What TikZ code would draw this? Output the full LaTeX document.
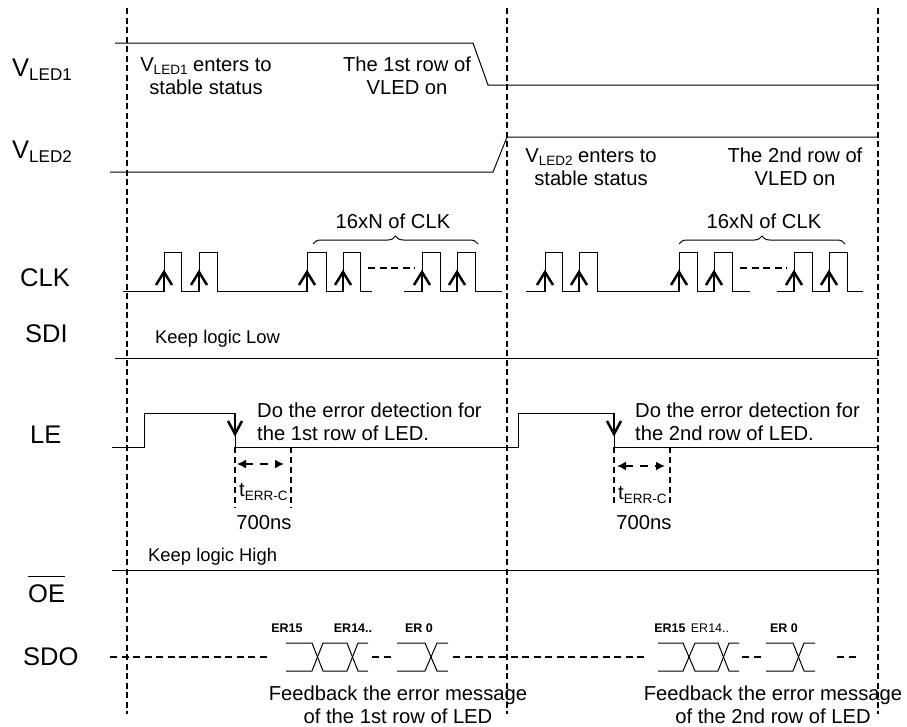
\documentclass[tikz,border=0pt]{standalone}
\usepackage{fontspec}
\setmainfont{Liberation Sans}
\usetikzlibrary{arrows.meta,decorations.pathreplacing}
\newcommand{\lsub}[1]{\raisebox{-0.3ex}{\fontsize{13.5}{14}\selectfont #1}}
\newcommand{\bsub}[1]{\raisebox{-0.3ex}{\fontsize{17}{17}\selectfont #1}}
\begin{document}
\begin{tikzpicture}[x=1pt,y=-1pt,
  sig/.style={line width=1pt},
  guide/.style={line width=2pt, dash pattern=on 6pt off 3.5pt},
  tguide/.style={line width=1.8pt, dash pattern=on 6pt off 4pt},
  lbl/.style={font=\fontsize{25.5}{28}\selectfont, inner sep=0pt, anchor=west},
  note/.style={font=\fontsize{20.2}{22.5}\selectfont, inner sep=0pt},
  small/.style={font=\fontsize{18.4}{20}\selectfont, inner sep=0pt, anchor=west},
  erb/.style={font=\bfseries\fontsize{12.5}{14}\selectfont, inner sep=0pt},
  err/.style={font=\fontsize{12.5}{14}\selectfont, inner sep=0pt},
  chev/.style={line width=2.5pt},
  dsh/.style={line width=1.6pt, dash pattern=on 7pt off 4.5pt},
  darr/.style={line width=1.6pt, dash pattern=on 8pt off 7pt, {Latex[length=9pt,width=9pt]}-{Latex[length=9pt,width=9pt]}},
  ]
\useasboundingbox (0,0) rectangle (907,726);

% guides
\foreach \x in {127,507,878} \draw[guide] (\x,8) -- (\x,714);

% signal labels
\node[lbl] (lv1) at (12,70) {V\bsub{LED1}};
\node[lbl] (lv2) at (12,152) {V\bsub{LED2}};
\node[lbl] (lclk) at (20,278) {CLK};
\node[lbl] (lsdi) at (25,334) {SDI};
\node[lbl] (lle) at (30,435) {LE};
\node[lbl] (loe) at (28,594) {OE};
\draw[line width=1.3pt] ([yshift=8pt]loe.north west) -- ([yshift=8pt]loe.north east);
\node[lbl] (lsdo) at (23,657) {SDO};

% VLED1 / VLED2
\draw[sig] (115,43) -- (473,43) -- (488,85) -- (878,85);
\draw[sig] (110,172) -- (493,172) -- (507,137) -- (878,137);
\node[note, align=center] (t1) at (206,76) {V\lsub{LED1} enters to\\stable status};
\node[note, align=center] (t2) at (407,76) {The 1st row of\\VLED on};
\node[note, align=center] (t3) at (591,167) {V\lsub{LED2} enters to\\stable status};
\node[note, align=center] (t4) at (795,167) {The 2nd row of\\VLED on};

% CLK
\draw[sig] (123,291) -- (164,291) -- (164,252) -- (181,252) -- (181,291) -- (199,291) -- (199,252) -- (217,252) -- (217,291)
  -- (307,291) -- (307,252) -- (326,252) -- (326,291) -- (343,291) -- (343,252) -- (360,252) -- (360,291) -- (372,291);
\draw[sig] (404,291) -- (422,291) -- (422,252) -- (440,252) -- (440,291) -- (457,291) -- (457,252) -- (475,252) -- (475,291) -- (502,291);
\draw[sig] (526,291) -- (545,291) -- (545,252) -- (562,252) -- (562,291) -- (579,291) -- (579,252) -- (597,252) -- (597,291)
  -- (679,291) -- (679,252) -- (697,252) -- (697,291) -- (714,291) -- (714,252) -- (732,252) -- (732,291) -- (750,291);
\draw[sig] (777,291) -- (794,291) -- (794,252) -- (812,252) -- (812,291) -- (829,291) -- (829,252) -- (847,252) -- (847,291) -- (863,291);
\draw[dsh] (368,268) -- (415,268);
\draw[dsh] (740,268) -- (787,268);
\foreach \x in {164,199,307,343,422,457,545,579,679,714,794,829} {
  \draw[chev] (\x,291) -- (\x,273);
  \draw[chev, line join=miter] ({\x-8},285) -- (\x,272) -- ({\x+8},285);
}
\draw[sig, decorate, decoration={brace, amplitude=8pt}] (313,244) -- (478,244);
\draw[sig, decorate, decoration={brace, amplitude=8pt}] (679,244) -- (845,244);
\node[note] (b1) at (393,221) {16xN of CLK};
\node[note] (b2) at (764,221) {16xN of CLK};

% SDI
\draw[sig] (115,358) -- (878,358);
\node[small] (klow) at (155,339) {Keep logic Low};

% LE
\draw[sig] (112,447) -- (144,447) -- (144,413) -- (235,413) -- (235,447) -- (518,447) -- (518,413) -- (614,413) -- (614,447) -- (878,447);
\foreach \x in {235,614} {
  \draw[chev] (\x,413) -- (\x,433);
  \draw[chev, line join=miter] ({\x-7},421) -- (\x,434) -- ({\x+7},421);
}
\node[note, anchor=west, align=left] (d1) at (257,422) {Do the error detection for\\the 1st row of LED.};
\node[note, anchor=west, align=left] (d2) at (635,422) {Do the error detection for\\the 2nd row of LED.};
\draw[tguide] (235,447) -- (235,508);
\draw[tguide] (291,447) -- (291,508);
\draw[tguide] (614,447) -- (614,506);
\draw[tguide] (670,447) -- (670,506);
\draw[darr] (237,464) -- (284,464);
\draw[darr] (617,466) -- (665,466);
\node[note, anchor=west] (te1) at (239,492) {t\lsub{ERR-C}};
\node[note] (ns1) at (264,523) {700ns};
\node[note, anchor=west] (te2) at (618,495) {t\lsub{ERR-C}};
\node[note] (ns2) at (644,523) {700ns};

% OE
\node[small] (khigh) at (148,557) {Keep logic High};
\draw[sig] (112,570) -- (878,570);

% SDO
\draw[dsh] (110,657) -- (267,657);
\draw[sig] (286,643) -- (312,643) -- (323,671) -- (347,671) -- (358,643) -- (368,643);
\draw[sig] (286,671) -- (312,671) -- (323,643) -- (347,643) -- (358,671) -- (368,671);
\draw[dsh] (372,657) -- (395,657);
\draw[sig] (397,643) -- (425,643) -- (437,671) -- (448,671);
\draw[sig] (397,671) -- (425,671) -- (437,643) -- (448,643);
\draw[dsh] (453,657) -- (648,657);
\draw[sig] (658,643) -- (683,643) -- (695,671) -- (718,671) -- (729,643) -- (739,643);
\draw[sig] (658,671) -- (683,671) -- (695,643) -- (718,643) -- (729,671) -- (739,671);
\draw[dsh] (742,657) -- (765,657);
\draw[sig] (766,643) -- (793,643) -- (804,671) -- (815,671);
\draw[sig] (766,671) -- (793,671) -- (804,643) -- (815,643);
\draw[dsh] (837,657) -- (857,657);
\node[erb] (e1) at (287,628) {ER15};
\node[erb] (e2) at (353,628) {ER14..};
\node[erb] (e3) at (419,628) {ER 0};
\node[erb] (e4) at (670,628) {ER15};
\node[err] (e5) at (710,628) {ER14..};
\node[erb] (e6) at (784,628) {ER 0};
\node[note, align=center] (f1) at (398,705) {Feedback the error message\\of the 1st row of LED};
\node[note, align=center] (f2) at (773,705) {Feedback the error message\\of the 2nd row of LED};
\end{tikzpicture}
\end{document}
